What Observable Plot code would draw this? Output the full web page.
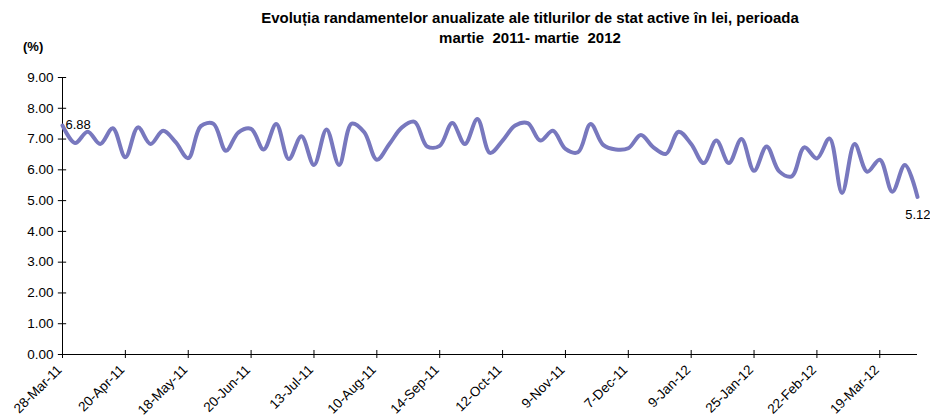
<!DOCTYPE html>
<html><head><meta charset="utf-8">
<script src="https://cdn.jsdelivr.net/npm/d3@7"></script>
<script src="https://cdn.jsdelivr.net/npm/@observablehq/plot@0.6"></script>
<style>
body{margin:0;background:#fff;}
#wrap{position:relative;width:930px;height:419px;overflow:hidden;font-family:"Liberation Sans",Arial,sans-serif;color:#000;}
#chart{position:absolute;left:0;top:0;}
#title{position:absolute;left:0;width:1060px;top:8px;text-align:center;font-weight:bold;font-size:15px;line-height:20px;white-space:pre;}
#unit{position:absolute;left:23px;top:39px;font-weight:bold;font-size:13px;}
</style></head>
<body><div id="wrap"><div id="chart"></div>
<div id="title">Evoluția randamentelor anualizate ale titlurilor de stat active în lei, perioada
martie  2011- martie  2012</div>
<div id="unit">(%)</div></div>
<script>
const yields = [7.44,6.87,7.24,6.84,7.35,6.41,7.38,6.84,7.27,6.90,
6.38,7.42,7.50,6.62,7.22,7.33,6.66,7.49,6.35,7.09,
6.16,7.31,6.16,7.50,7.22,6.33,6.84,7.38,7.56,6.76,
6.78,7.52,6.84,7.65,6.55,6.95,7.44,7.52,6.95,7.27,
6.68,6.57,7.49,6.81,6.66,6.70,7.13,6.73,6.52,7.24,
6.84,6.22,6.95,6.22,7.00,5.97,6.76,5.95,5.79,6.73,
6.37,7.02,5.25,6.84,5.94,6.33,5.29,6.16,5.12];
const tickIndex = [0,5,10,15,20,25,30,35,40,45,50,55,60,65];
const tickLabels = ["28-Mar-11","20-Apr-11","18-May-11","20-Jun-11","13-Jul-11","10-Aug-11","14-Sep-11","12-Oct-11","9-Nov-11","7-Dec-11","9-Jan-12","25-Jan-12","22-Feb-12","19-Mar-12"];
const yTicks = [0,1,2,3,4,5,6,7,8,9];
const firstLabel = "6.88";
const lastLabel = "5.12";

const idx = d3.range(yields.length);
const last = yields.length - 1;

const chart = Plot.plot({
  width: 930, height: 419,
  marginTop: 77, marginBottom: 65, marginLeft: 62, marginRight: 13,
  style: {fontFamily: "'Liberation Sans', Arial, sans-serif", fontSize: "13px", background: "#fff", color: "#000"},
  x: {domain: [0, last], axis: null},
  y: {domain: [0, 9], axis: null},
  marks: [
    Plot.ruleX([0], {stroke: "#000", strokeWidth: 1}),
    Plot.ruleY([0], {stroke: "#000", strokeWidth: 1}),
    Plot.ruleY(yTicks, {y: d => d, x1: -0.33, x2: 0.33, stroke: "#000"}),
    Plot.ruleX(tickIndex, {x: d => d, y1: -0.13, y2: 0.13, stroke: "#000"}),
    Plot.text(yTicks, {x: 0, y: d => d, text: d => d.toFixed(2), textAnchor: "end", dx: -9, fontSize: 13.5, fill: "#000"}),
    Plot.text(tickIndex, {x: d => d, y: 0, text: (d, i) => tickLabels[i], rotate: -45, textAnchor: "end", dx: -3, dy: 13, fontSize: 13.5, fill: "#000"}),
    Plot.line(idx, {x: d => d, y: d => yields[d], curve: "catmull-rom", stroke: "#7878be", strokeWidth: 4, strokeLinejoin: "round", strokeLinecap: "round"}),
    Plot.text([0], {x: d => d, y: d => yields[d], text: () => firstLabel, textAnchor: "start", dx: 3, dy: -1, fontSize: 13, fill: "#000"}),
    Plot.text([last], {x: d => d, y: d => yields[d], text: () => lastLabel, textAnchor: "end", dx: 13, dy: 18, fontSize: 13, fill: "#000"})
  ]
});
document.getElementById("chart").appendChild(chart);
</script>
</body></html>
